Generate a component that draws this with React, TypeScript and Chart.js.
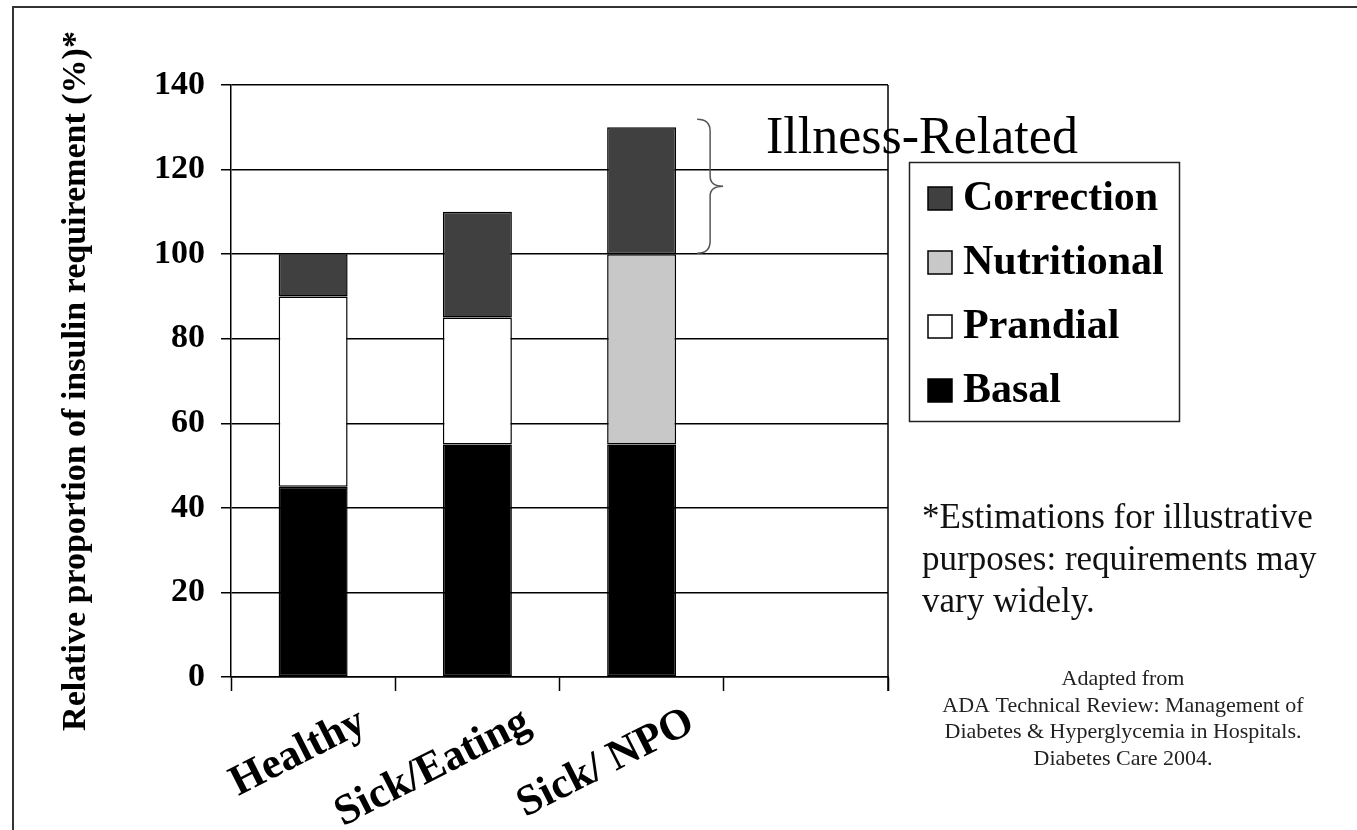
import React, { useEffect, useRef } from 'react';
import { Chart, registerables } from 'chart.js';

Chart.register(...registerables);

// ---- data ----
const categories = ['Healthy', 'Sick/Eating', 'Sick/ NPO', ''];
const basal = [45, 55, 55, null];
const prandial = [45, 30, null, null];
const nutritional = [null, null, 45, null];
const correction = [10, 25, 30, null];
const seriesNames = ['Basal', 'Prandial', 'Nutritional', 'Correction'];
const seriesColors = ['#000000', '#ffffff', '#c8c8c8', '#404040'];
const yMin = 0;
const yMax = 140;
const yStep = 20;
const yTitle = 'Relative proportion of insulin requirement (%)*';
const braceFrom = 100;
const braceTo = 130;
const illnessLabel = 'Illness-Related';
const noteLines = ['*Estimations for illustrative', 'purposes: requirements may', 'vary widely.'];
const sourceLines = [
  'Adapted from',
  'ADA Technical Review: Management of',
  'Diabetes & Hyperglycemia in Hospitals.',
  'Diabetes Care 2004.',
];

const SERIF = '"Liberation Serif", "Times New Roman", serif';

const decorPlugin = {
  id: 'decor',
  afterDraw(chart: any) {
    const ctx = chart.ctx;
    const ca = chart.chartArea;
    const yS = chart.scales.y;
    ctx.save();

    // outer frame (left + top)
    ctx.strokeStyle = '#333';
    ctx.lineWidth = 2;
    ctx.beginPath();
    ctx.moveTo(13, 830);
    ctx.lineTo(13, 7);
    ctx.lineTo(1357, 7);
    ctx.stroke();

    // right border of plot area
    ctx.strokeStyle = '#000';
    ctx.lineWidth = 1.5;
    ctx.beginPath();
    ctx.moveTo(ca.right, ca.top);
    ctx.lineTo(ca.right, ca.bottom + 14);
    ctx.stroke();

    // brace next to third bar
    const meta = chart.getDatasetMeta(3);
    const bar = meta.data[2];
    if (bar) {
      const x0 = bar.x + bar.width / 2 + 21;
      const y0 = yS.getPixelForValue(braceTo) - 8;
      const y1 = yS.getPixelForValue(braceFrom) - 1;
      const ym = (y0 + y1) / 2;
      const xm = x0 + 13;
      const xt = x0 + 26;
      ctx.strokeStyle = '#555';
      ctx.lineWidth = 1.5;
      ctx.beginPath();
      ctx.moveTo(x0, y0);
      ctx.quadraticCurveTo(xm, y0, xm, y0 + 12);
      ctx.lineTo(xm, ym - 10);
      ctx.quadraticCurveTo(xm, ym, xt, ym);
      ctx.quadraticCurveTo(xm, ym, xm, ym + 10);
      ctx.lineTo(xm, y1 - 12);
      ctx.quadraticCurveTo(xm, y1, x0, y1);
      ctx.stroke();
    }

    // Illness-Related label
    ctx.fillStyle = '#000';
    ctx.textBaseline = 'alphabetic';
    ctx.textAlign = 'left';
    ctx.font = `52px ${SERIF}`;
    ctx.fillText(illnessLabel, 766, 153);

    // legend box
    const lx = ca.right + 21;
    ctx.fillStyle = '#fff';
    ctx.fillRect(lx, 162, 270, 259);
    ctx.strokeStyle = '#222';
    ctx.lineWidth = 1.5;
    ctx.strokeRect(lx + 0.5, 162.5, 270, 259);
    const ds = chart.data.datasets.slice().reverse();
    ds.forEach((d: any, i: number) => {
      const by = 210 + i * 64;
      ctx.fillStyle = d.backgroundColor;
      ctx.fillRect(lx + 19, by - 23, 24, 23);
      ctx.strokeStyle = '#000';
      ctx.lineWidth = 1.5;
      ctx.strokeRect(lx + 19, by - 23, 24, 23);
      ctx.fillStyle = '#000';
      ctx.font = `bold 42px ${SERIF}`;
      ctx.fillText(d.label, lx + 54, by);
    });

    // note
    ctx.font = `35px ${SERIF}`;
    ctx.fillStyle = '#111';
    noteLines.forEach((t, i) => ctx.fillText(t, 922, 528 + i * 42));

    // source
    ctx.font = `22px ${SERIF}`;
    ctx.textAlign = 'center';
    ctx.fillStyle = '#222';
    sourceLines.forEach((t, i) => ctx.fillText(t, 1123, 685 + i * 26.5));

    ctx.restore();
  },
};

export default function App() {
  const ref = useRef<HTMLCanvasElement | null>(null);
  useEffect(() => {
    if (!ref.current) return;
    const seriesData = [basal, prandial, nutritional, correction];
    const chart = new Chart(ref.current, {
      type: 'bar',
      data: {
        labels: categories,
        datasets: seriesNames.map((n, i) => ({
          label: n,
          data: seriesData[i] as any,
          backgroundColor: seriesColors[i],
          borderColor: '#000',
          borderWidth: 1.5,
          borderSkipped: false,
          barPercentage: 0.42,
          categoryPercentage: 1,
        })),
      },
      options: {
        responsive: false,
        maintainAspectRatio: false,
        animation: false,
        layout: { padding: { left: 40, right: 469, top: 85, bottom: 0 } },
        plugins: { legend: { display: false }, tooltip: { enabled: false } },
        scales: {
          x: {
            stacked: true,
            offset: true,
            grid: {
              offset: true,
              drawOnChartArea: false,
              drawTicks: true,
              tickLength: 14,
              tickWidth: 1.5,
              tickColor: '#000',
              color: '#000',
            },
            border: { display: true, color: '#000', width: 1.5 },
            ticks: {
              autoSkip: false,
              maxRotation: 27,
              minRotation: 27,
              padding: 6,
              labelOffset: 50,
              color: '#000',
              font: { family: SERIF, size: 43, weight: 'bold' },
            },
            afterFit(scale: any) {
              scale.height = 153;
            },
          },
          y: {
            stacked: true,
            min: yMin,
            max: yMax,
            ticks: {
              stepSize: yStep,
              padding: 16,
              color: '#000',
              font: { family: SERIF, size: 34, weight: 'bold' },
            },
            grid: {
              color: '#000',
              lineWidth: 1.5,
              tickLength: 10,
              tickColor: '#000',
            },
            border: { display: true, color: '#000', width: 1.5 },
            title: {
              display: true,
              text: yTitle,
              color: '#000',
              font: { family: SERIF, size: 34, weight: 'bold' },
              padding: { top: 16, bottom: 0 },
            },
            afterFit(scale: any) {
              scale.width = 191;
            },
          },
        },
      },
      plugins: [decorPlugin],
    });
    return () => chart.destroy();
  }, []);
  return (
    <div style={{ position: 'fixed', left: 0, top: 0, width: 1357, height: 830, background: '#fff' }}>
      <canvas ref={ref} width={1357} height={830} />
    </div>
  );
}
